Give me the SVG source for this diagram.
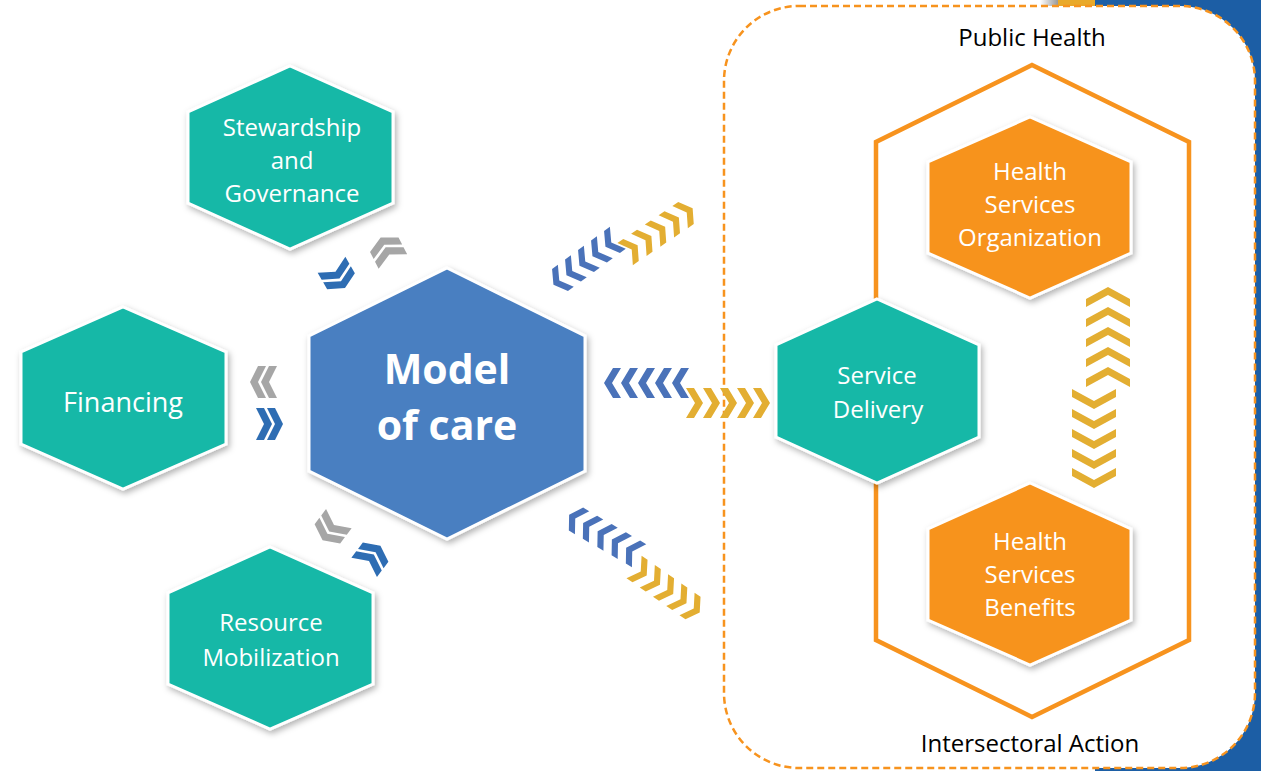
<svg xmlns="http://www.w3.org/2000/svg" width="1261" height="771" viewBox="0 0 1261 771">
<style>
.hex{stroke:#fff;stroke-width:3;filter:url(#sh)}
.teal{fill:#16B8A7}
.org{fill:#F7931E}
.lbl{font-family:"Open Sans","Noto Sans",sans-serif;fill:#fff;font-size:24px;text-anchor:middle}
.big{font-family:"Open Sans","Noto Sans",sans-serif;fill:#fff;font-size:41px;font-weight:bold;text-anchor:middle}
.blk{font-family:"Open Sans","Noto Sans",sans-serif;fill:#000;font-size:24px;text-anchor:middle}
.cb{fill:#4A72B9}
.cy{fill:#E3AE32}
.cg{fill:#A6A6A6}
.cd{fill:#2E6DB3}
</style>
<defs>
<filter id="sh" x="-20%" y="-20%" width="140%" height="140%">
<feDropShadow dx="2" dy="3" stdDeviation="3" flood-color="#000" flood-opacity="0.3"/>
</filter>
<path id="chev" d="M-8,-15 L0,-15 L9,0 L0,15 L-8,15 L1,0 Z"/>
<path id="dchev" d="M-13,-16 L-5,-16 L3,0 L-5,16 L-13,16 L-5,0 Z M-2,-16 L6,-16 L14,0 L6,16 L-2,16 L6,0 Z"/>
<path id="vchev" d="M-22,2 L0,-10 L22,2 L22,10 L0,-2 L-22,10 Z"/>
<linearGradient id="gg" x1="0" x2="1" y1="0" y2="0">
<stop offset="0" stop-color="#fff"/><stop offset="1" stop-color="#999"/>
</linearGradient>
</defs>
<rect width="1261" height="771" fill="#fff"/>
<g id="background">
<rect x="1095" y="0" width="166" height="771" fill="#1C5EA5"/>
<rect x="1040" y="0" width="18" height="6" fill="url(#gg)"/>
<rect x="1058" y="0" width="37" height="6" fill="#E9A92A"/>
<rect x="724" y="6" width="531" height="762" rx="75" ry="75" fill="#fff" stroke="#F7931E" stroke-width="2.5" stroke-dasharray="7 4"/>
</g>
<g id="outer-hex">
<polygon points="1032,65 1189,142 1189,640 1032,717 876,640 876,142" fill="none" stroke="#F7931E" stroke-width="4.5"/>
</g>
<g id="labels">
<text class="blk" x="1032" y="46">Public Health</text>
<text class="blk" x="1030" y="752">Intersectoral Action</text>
</g>
<g id="connectors">
<use href="#dchev" class="cg" transform="translate(387,250) rotate(-117)"/>
<use href="#dchev" class="cd" transform="translate(338,276) rotate(60)"/>
<use href="#dchev" class="cg" transform="translate(264,382) rotate(180)"/>
<use href="#dchev" class="cd" transform="translate(269,424)"/>
<use href="#dchev" class="cg" transform="translate(331,529) rotate(127)"/>
<use href="#dchev" class="cd" transform="translate(372,557) rotate(-53)"/>
<g class="cb">
<use href="#chev" transform="translate(560,280) rotate(144) scale(0.9)"/>
<use href="#chev" transform="translate(573,270.5) rotate(144) scale(0.9)"/>
<use href="#chev" transform="translate(586,261) rotate(144) scale(0.9)"/>
<use href="#chev" transform="translate(599,251.5) rotate(144) scale(0.9)"/>
<use href="#chev" transform="translate(612,242) rotate(144) scale(0.9)"/>
</g>
<g class="cy">
<use href="#chev" transform="translate(631,250) rotate(-35) scale(0.9)"/>
<use href="#chev" transform="translate(644.75,240.75) rotate(-35) scale(0.9)"/>
<use href="#chev" transform="translate(658.5,231.5) rotate(-35) scale(0.9)"/>
<use href="#chev" transform="translate(672.25,222.25) rotate(-35) scale(0.9)"/>
<use href="#chev" transform="translate(686,213) rotate(-35) scale(0.9)"/>
</g>
<g class="cb">
<use href="#chev" transform="translate(613,383) rotate(180)"/>
<use href="#chev" transform="translate(630,383) rotate(180)"/>
<use href="#chev" transform="translate(647,383) rotate(180)"/>
<use href="#chev" transform="translate(664,383) rotate(180)"/>
<use href="#chev" transform="translate(681,383) rotate(180)"/>
</g>
<g class="cy">
<use href="#chev" transform="translate(694,403)"/>
<use href="#chev" transform="translate(711,403)"/>
<use href="#chev" transform="translate(728,403)"/>
<use href="#chev" transform="translate(745,403)"/>
<use href="#chev" transform="translate(761,403)"/>
</g>
<g class="cb">
<use href="#chev" transform="translate(576,519) rotate(212) scale(0.9)"/>
<use href="#chev" transform="translate(590,527.25) rotate(212) scale(0.9)"/>
<use href="#chev" transform="translate(604.5,535.5) rotate(212) scale(0.9)"/>
<use href="#chev" transform="translate(618.75,543.75) rotate(212) scale(0.9)"/>
<use href="#chev" transform="translate(633,552) rotate(212) scale(0.9)"/>
</g>
<g class="cy">
<use href="#chev" transform="translate(640,571) rotate(34) scale(0.9)"/>
<use href="#chev" transform="translate(653.25,580.25) rotate(34) scale(0.9)"/>
<use href="#chev" transform="translate(666.5,589.5) rotate(34) scale(0.9)"/>
<use href="#chev" transform="translate(679.75,598.75) rotate(34) scale(0.9)"/>
<use href="#chev" transform="translate(693,608) rotate(34) scale(0.9)"/>
</g>
<g class="cy">
<use href="#vchev" transform="translate(1108,297)"/>
<use href="#vchev" transform="translate(1108,317)"/>
<use href="#vchev" transform="translate(1108,337)"/>
<use href="#vchev" transform="translate(1108,357)"/>
<use href="#vchev" transform="translate(1108,377)"/>
<use href="#vchev" transform="translate(1094,399) rotate(180)"/>
<use href="#vchev" transform="translate(1094,419) rotate(180)"/>
<use href="#vchev" transform="translate(1094,439) rotate(180)"/>
<use href="#vchev" transform="translate(1094,459) rotate(180)"/>
<use href="#vchev" transform="translate(1094,478) rotate(180)"/>
</g>
</g>
<g id="stewardship">
<polygon class="hex teal" points="290,66 393,112 393,203 290,249 188,203 188,112"/>
<text class="lbl" x="292" y="136">Stewardship</text>
<text class="lbl" x="292" y="169">and</text>
<text class="lbl" x="292" y="202">Governance</text>
</g>
<g id="financing">
<polygon class="hex teal" points="123,307 226,352 226,444 123,489 21,444 21,352"/>
<text class="lbl" x="123" y="412" style="font-size:27px">Financing</text>
</g>
<g id="resource">
<polygon class="hex teal" points="270,547 373,593 373,684 270,729 168,684 168,593"/>
<text class="lbl" x="271" y="631">Resource</text>
<text class="lbl" x="271" y="666">Mobilization</text>
</g>
<g id="model">
<polygon class="hex" fill="#4A7FC1" points="447,268 585,336 585,471 447,539 309,471 309,336"/>
<text class="big" x="447" y="384">Model</text>
<text class="big" x="447" y="440">of care</text>
</g>
<g id="service-delivery">
<polygon class="hex teal" points="877,299 979,345 979,437 877,483 776,437 776,345"/>
<text class="lbl" x="877" y="384">Service</text>
<text class="lbl" x="878" y="418">Delivery</text>
</g>
<g id="hs-organization">
<polygon class="hex org" points="1030,117 1131,162 1131,253 1030,298 928,253 928,162"/>
<text class="lbl" x="1030" y="180">Health</text>
<text class="lbl" x="1030" y="213">Services</text>
<text class="lbl" x="1030" y="246">Organization</text>
</g>
<g id="hs-benefits">
<polygon class="hex org" points="1030,483 1131,529 1131,620 1030,665 928,620 928,529"/>
<text class="lbl" x="1030" y="550">Health</text>
<text class="lbl" x="1030" y="583">Services</text>
<text class="lbl" x="1030" y="616">Benefits</text>
</g>
</svg>
